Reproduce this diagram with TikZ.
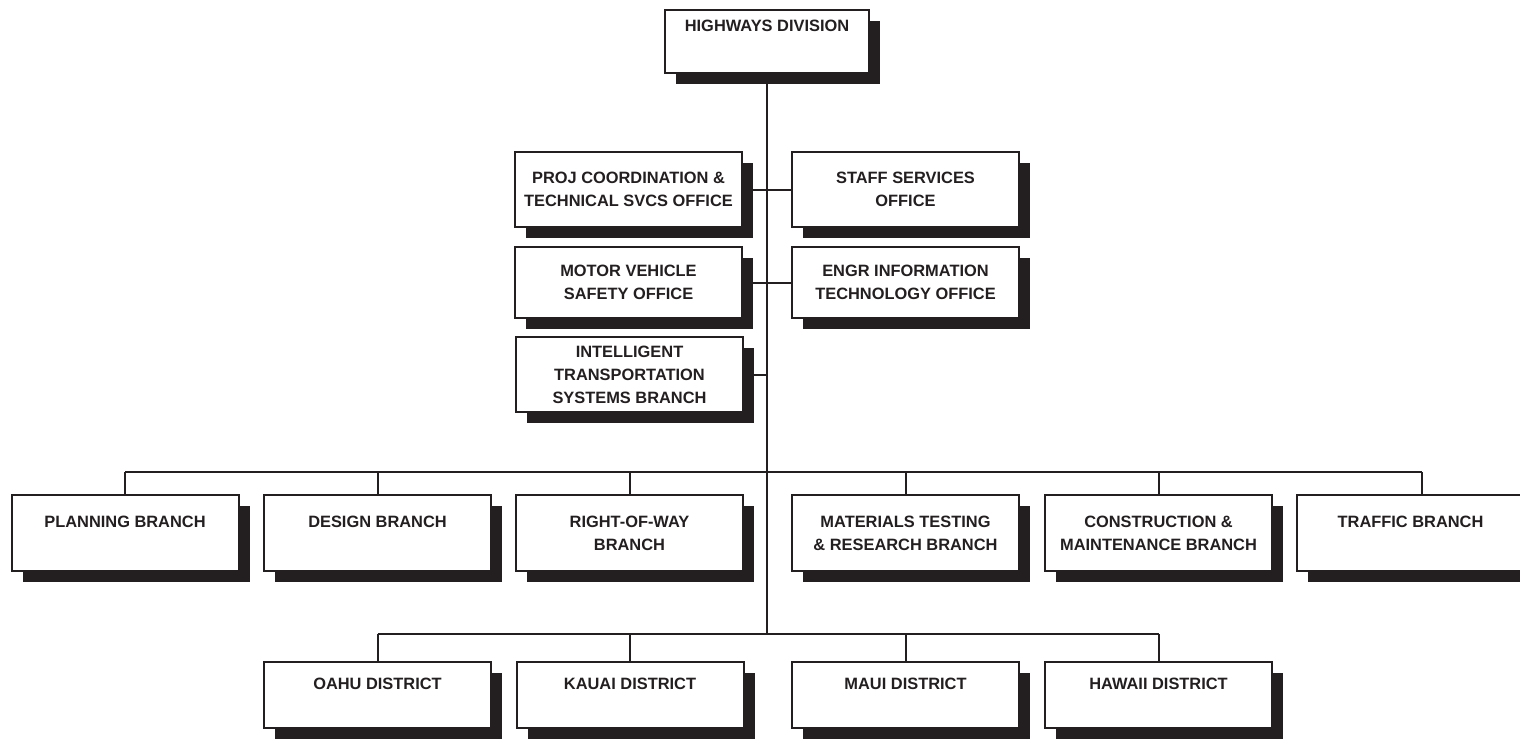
\documentclass[tikz,border=0pt]{standalone}
\usepackage{fontspec}
\setmainfont{Liberation Sans}
\usetikzlibrary{shadows}
\definecolor{ink}{HTML}{231F20}
\tikzset{
  orgbox/.style={rectangle, draw=ink, line width=2pt, fill=white, text=ink,
    inner sep=0pt, align=center,
    font=\bfseries\fontsize{16.4}{23}\selectfont,
    drop shadow={shadow xshift=11pt, shadow yshift=-11pt, fill=ink, opacity=1}},
  wbox/.style={orgbox, minimum width=227pt},
  conn/.style={draw=ink, line width=2pt}
}
\begin{document}
\begin{tikzpicture}[x=1pt,y=-1pt]
\useasboundingbox (0,0) rectangle (1520,740);
% top
\node[orgbox, minimum width=204pt, minimum height=63pt] (top) at (767,41.5) {HIGHWAYS DIVISION\\[8pt]\mbox{}};
% staff offices
\node[wbox, minimum height=75pt] (proj) at (628.5,189.5) {PROJ COORDINATION \&\\TECHNICAL SVCS OFFICE};
\node[wbox, minimum height=75pt] (staff) at (905.5,189.5) {STAFF SERVICES\\OFFICE};
\node[wbox, minimum height=71pt] (motor) at (628.5,282.5) {MOTOR VEHICLE\\SAFETY OFFICE};
\node[wbox, minimum height=71pt] (engr) at (905.5,282.5) {ENGR INFORMATION\\TECHNOLOGY OFFICE};
\node[wbox, minimum height=75pt] (its) at (629.5,374.5) {INTELLIGENT\\TRANSPORTATION\\SYSTEMS BRANCH};
% branches
\node[wbox, minimum height=76pt] (planning) at (125,533) {PLANNING BRANCH\\\mbox{}};
\node[wbox, minimum height=76pt] (design) at (377.5,533) {DESIGN BRANCH\\\mbox{}};
\node[wbox, minimum height=76pt] (row) at (629.5,533) {RIGHT-OF-WAY\\BRANCH};
\node[wbox, minimum height=76pt] (materials) at (905.5,533) {MATERIALS TESTING\\\& RESEARCH BRANCH};
\node[wbox, minimum height=76pt] (construction) at (1158.5,533) {CONSTRUCTION \&\\MAINTENANCE BRANCH};
\node[wbox, minimum height=76pt] (traffic) at (1410.5,533) {TRAFFIC BRANCH\\\mbox{}};
% districts
\node[wbox, minimum height=66pt] (oahu) at (377.5,695) {OAHU DISTRICT\\\mbox{}};
\node[wbox, minimum height=66pt] (kauai) at (630,695) {KAUAI DISTRICT\\\mbox{}};
\node[wbox, minimum height=66pt] (maui) at (905.5,695) {MAUI DISTRICT\\\mbox{}};
\node[wbox, minimum height=66pt] (hawaii) at (1158.5,695) {HAWAII DISTRICT\\\mbox{}};
% coordinates
\coordinate (bbar) at (767,472);
\coordinate (dbar) at (767,634);
\coordinate (trafficdrop) at (1422,495);
% connectors
\draw[conn] (top.south) -- (dbar);
\draw[conn] (proj.east) -- (staff.west);
\draw[conn] (motor.east) -- (engr.west);
\draw[conn] (its.east) -- (its.east -| top.south);
\draw[conn] (planning.north |- bbar) -- (trafficdrop |- bbar);
\foreach \n in {planning,design,row,materials,construction}
  \draw[conn] (\n.north) -- (\n.north |- bbar);
\draw[conn] (trafficdrop) -- (trafficdrop |- bbar);
\draw[conn] (oahu.north |- dbar) -- (hawaii.north |- dbar);
\foreach \n in {oahu,kauai,maui,hawaii}
  \draw[conn] (\n.north) -- (\n.north |- dbar);
\end{tikzpicture}
\end{document}
